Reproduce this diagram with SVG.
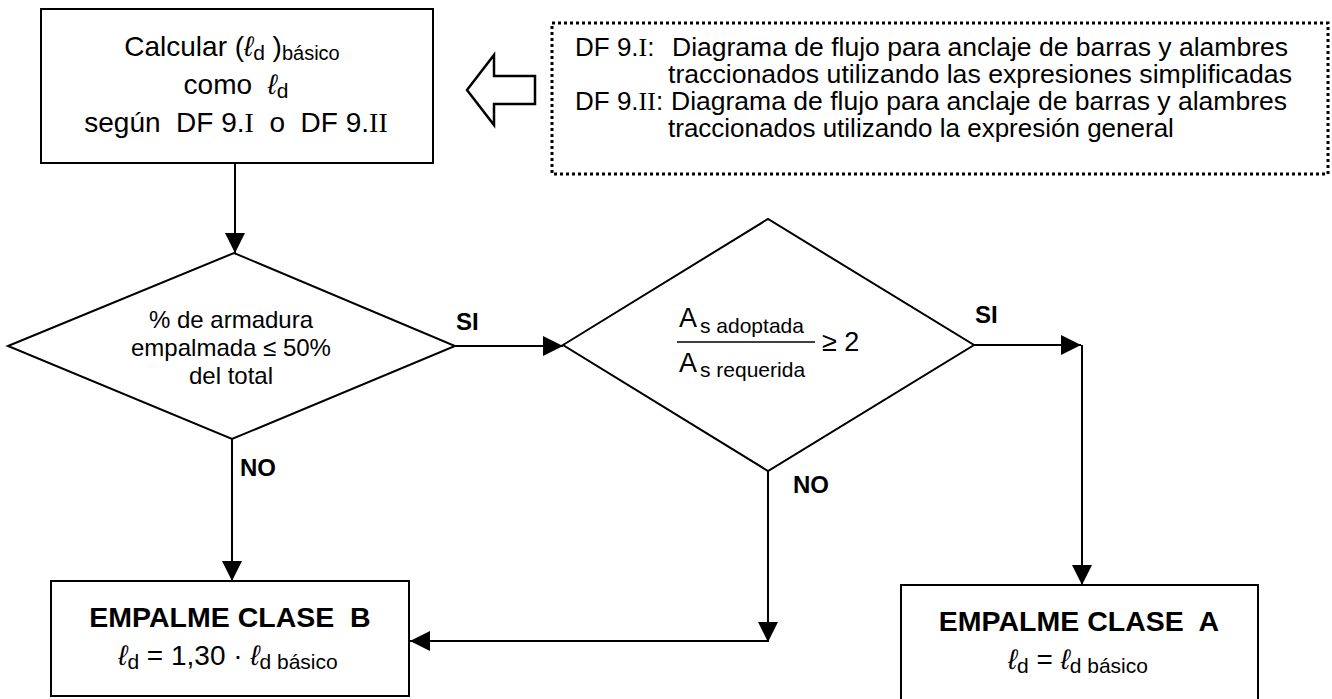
<svg xmlns="http://www.w3.org/2000/svg" width="1332" height="699" viewBox="0 0 1332 699">
<defs>
<style>
.t{font-family:"Liberation Sans",Arial,sans-serif;fill:#000}
.r{font-family:"Liberation Serif","Times New Roman",serif}
.l{font-style:italic}
.b{font-weight:bold}
.box{fill:#fff;stroke:#000;stroke-width:2}
.ln{fill:none;stroke:#000;stroke-width:2}
</style>
<marker id="ah" markerUnits="userSpaceOnUse" markerWidth="21" markerHeight="21" refX="20" refY="10" orient="auto" viewBox="0 0 21 21">
<path d="M0,0 L20,10 L0,20 Z" fill="#000"/>
</marker>
</defs>
<rect width="1332" height="699" fill="#fff"/>

<g id="connectors">
<path class="ln" d="M235,163 V253" marker-end="url(#ah)"/>
<path class="ln" d="M455,346 H563" marker-end="url(#ah)"/>
<path class="ln" d="M232,439 V581" marker-end="url(#ah)"/>
<path class="ln" d="M974,345 H1081" marker-end="url(#ah)"/>
<path class="ln" d="M1082,345 V585" marker-end="url(#ah)"/>
<path class="ln" d="M768,471 V642" marker-end="url(#ah)"/>
<path class="ln" d="M768,641 H410" marker-end="url(#ah)"/>
<text class="t b" x="456" y="330" font-size="24">SI</text>
<text class="t b" x="240" y="476" font-size="24">NO</text>
<text class="t b" x="975" y="323" font-size="24">SI</text>
<text class="t b" x="793" y="493" font-size="24">NO</text>
</g>

<g id="calc">
<rect class="box" x="41" y="9" width="392" height="154"/>
<text class="t" x="232" y="56" font-size="28" text-anchor="middle" xml:space="preserve">Calcular (<tspan class="l">ℓ</tspan><tspan font-size="21" dy="4">d</tspan><tspan dy="-4"> )</tspan><tspan font-size="20" dy="4">básico</tspan></text>
<text class="t" x="236" y="94" font-size="28" text-anchor="middle" xml:space="preserve">como  <tspan class="l">ℓ</tspan><tspan font-size="21" dy="4">d</tspan></text>
<text class="t" x="236" y="132" font-size="28" text-anchor="middle" xml:space="preserve">según  DF 9.<tspan class="r">I</tspan>  o  DF 9.<tspan class="r">II</tspan></text>
</g>

<g id="ref-arrow">
<polygon points="467,90 494,55 494,76 535,76 535,104 494,104 494,125" fill="#fff" stroke="#000" stroke-width="2.5" stroke-linejoin="miter"/>
</g>

<g id="note">
<rect x="552" y="23" width="776" height="151" fill="none" stroke="#000" stroke-width="3" stroke-dasharray="3 3"/>
<text class="t" x="575" y="56" font-size="26">DF 9.<tspan class="r">I</tspan>:</text>
<text class="t" x="672" y="56" font-size="26" textLength="616" lengthAdjust="spacingAndGlyphs">Diagrama de flujo para anclaje de barras y alambres</text>
<text class="t" x="668" y="83" font-size="26" textLength="624" lengthAdjust="spacingAndGlyphs">traccionados utilizando las expresiones simplificadas</text>
<text class="t" x="575" y="110" font-size="26">DF 9.<tspan class="r">II</tspan>:</text>
<text class="t" x="671" y="110" font-size="26" textLength="616" lengthAdjust="spacingAndGlyphs">Diagrama de flujo para anclaje de barras y alambres</text>
<text class="t" x="668" y="137" font-size="26">traccionados utilizando la expresión general</text>
</g>

<g id="dec1">
<polygon class="box" points="8,346 234,253 455,346 232,439"/>
<text class="t" x="231" y="328" font-size="24" text-anchor="middle">% de armadura</text>
<text class="t" x="231" y="356" font-size="24" text-anchor="middle">empalmada ≤ 50%</text>
<text class="t" x="231" y="384" font-size="24" text-anchor="middle">del total</text>
</g>

<g id="dec2">
<polygon class="box" points="563,345 768,219 974,345 768,471"/>
<text class="t" x="679" y="327" font-size="27">A</text>
<text class="t" x="700" y="333" font-size="21" xml:space="preserve">s adoptada</text>
<line x1="677" y1="342" x2="815" y2="342" stroke="#000" stroke-width="1.5"/>
<text class="t" x="679" y="372" font-size="27">A</text>
<text class="t" x="700" y="377" font-size="21" xml:space="preserve">s requerida</text>
<text class="t" x="822" y="351" font-size="27">≥ 2</text>
</g>

<g id="claseB">
<rect class="box" x="51" y="581" width="358" height="115"/>
<text class="t b" x="230" y="627" font-size="28.5" text-anchor="middle" xml:space="preserve">EMPALME CLASE  B</text>
<text class="t" x="228" y="665" font-size="28" text-anchor="middle" xml:space="preserve"><tspan class="l">ℓ</tspan><tspan font-size="21" dy="4">d</tspan><tspan dy="-4"> = 1,30 · </tspan><tspan class="l">ℓ</tspan><tspan font-size="21" dy="4">d básico</tspan></text>
</g>

<g id="claseA">
<rect class="box" x="901" y="585" width="357" height="130"/>
<text class="t b" x="1079" y="631" font-size="28.5" text-anchor="middle" xml:space="preserve">EMPALME CLASE  A</text>
<text class="t" x="1078" y="669" font-size="28" text-anchor="middle" xml:space="preserve"><tspan class="l">ℓ</tspan><tspan font-size="21" dy="4">d</tspan><tspan dy="-4"> = </tspan><tspan class="l">ℓ</tspan><tspan font-size="21" dy="4">d básico</tspan></text>
</g>
</svg>
